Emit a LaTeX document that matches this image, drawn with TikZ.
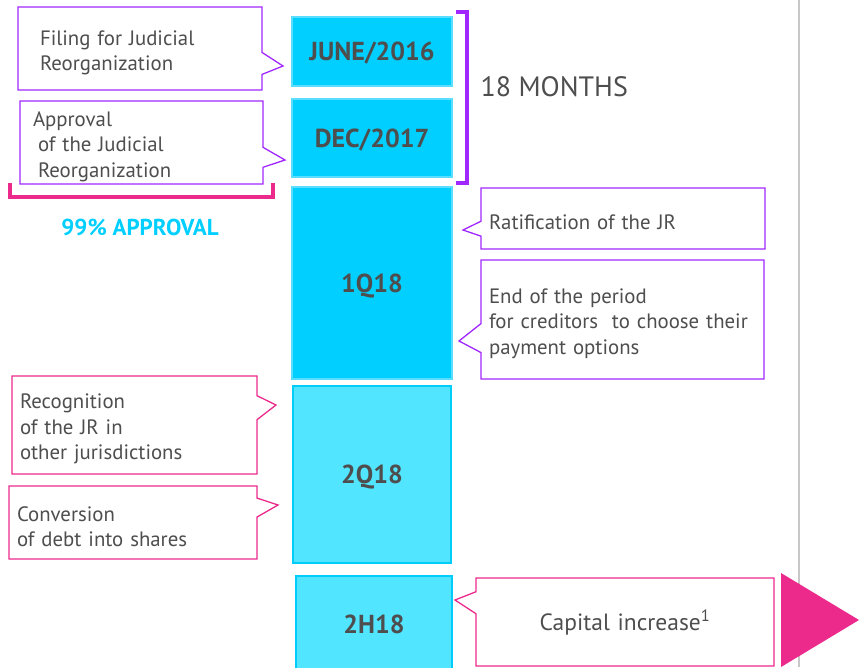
\documentclass[tikz,border=0pt]{standalone}
\usepackage{xcolor}
\usepackage{tikz}
\usepackage{fontspec}
\setmainfont{PT Sans}
\definecolor{boxcyan}{RGB}{0, 207, 255}
\definecolor{boxcyanedge}{RGB}{90, 222, 255}
\definecolor{lightcyan}{RGB}{82, 229, 255}
\definecolor{lightcyanedge}{RGB}{0, 204, 250}
\definecolor{calloutpurple}{RGB}{160, 40, 255}
\definecolor{calloutpink}{RGB}{236, 42, 140}
\definecolor{textgray}{RGB}{78, 78, 78}
\definecolor{rulegray}{RGB}{200, 200, 200}
\usetikzlibrary{shapes, shapes.callouts, positioning, calc}

\begin{document}
\begin{tikzpicture}[
    x=1pt, y=-1pt,
    datebox/.style={rectangle, draw=boxcyanedge, fill=boxcyan, line width=1.5pt, minimum width=160pt, text depth=0pt, text=textgray, font=\fontsize{26}{30}\selectfont\bfseries},
    laterbox/.style={datebox, draw=lightcyanedge, fill=lightcyan},
    callbox/.style={rectangle callout, draw, fill=white, line width=1.3pt, inner xsep=8pt, inner ysep=0pt, align=left, text height=23pt, text=textgray, font=\fontsize{20.8}{25.5}\selectfont},
    bracket/.style={line width=4pt}
]
    \useasboundingbox (0,0) rectangle (859,667);

    \draw[rulegray, line width=2pt] (799,0) -- (799,667);

    \node[datebox, minimum height=69pt] (june) at (372,51.5) {JUNE/2016};
    \node[datebox, minimum height=78pt] (dec) at (372,138) {DEC/2017};
    \node[datebox, minimum height=192pt] (q1) at (372,283) {1Q18};
    \node[laterbox, minimum width=158pt, minimum height=177pt] (q2) at (372,474.5) {2Q18};
    \node[laterbox, minimum width=156pt, minimum height=96pt] (h2) at (374,624) {2H18};

    \node[callbox, draw=calloutpurple, text width=228pt, minimum height=83pt,
        callout absolute pointer={(283,66)}, callout pointer width=22pt] (filing) at (140,48.5) {
        \hspace*{14pt}Filing for Judicial\\
        \hspace*{14pt}Reorganization
    };

    \node[callbox, draw=calloutpurple, text width=227pt, minimum height=83pt,
        callout absolute pointer={(285,160)}, callout pointer width=20pt] (approval) at (141.5,142.5) {
        \hspace*{5pt}Approval\\
        \hspace*{10pt}of the Judicial\\
        \hspace*{10pt}Reorganization
    };

    \node[callbox, draw=calloutpurple, text width=268pt, minimum height=61pt,
        callout absolute pointer={(463,230)}, callout pointer width=15pt] (ratif) at (623,218.5) {
        Ratification of the JR
    };

    \node[callbox, draw=calloutpurple, text width=267pt, minimum height=119pt,
        callout absolute pointer={(459,341)}, callout pointer width=29pt] (period) at (622.5,319.5) {
        End of the period\\
        for creditors\ \ to choose their\\
        payment options
    };

    \node[callbox, draw=calloutpink, text width=229pt, minimum height=98pt,
        callout absolute pointer={(276,405)}, callout pointer width=24pt] (recog) at (134.5,425) {
        Recognition\\
        of the JR in\\
        other jurisdictions
    };

    \node[callbox, draw=calloutpink, text width=232pt, minimum height=73pt,
        callout absolute pointer={(278,505)}, callout pointer width=19pt] (conv) at (133,522.5) {
        Conversion\\
        of debt into shares
    };

    \node[callbox, draw=calloutpink, text width=282pt, minimum height=88pt, align=center,
        callout absolute pointer={(455,600)}, callout pointer width=22pt, text height=22pt,
        font=\fontsize{23.5}{26}\selectfont] (capital) at (625,622) {
        Capital increase\textsuperscript{1}
    };

    \fill[calloutpink] (781,573) -- (859,620) -- (781,667) -- cycle;

    \draw[bracket, calloutpurple] (456,12) -- (467,12) -- (467,183) -- (456,183);
    \draw[bracket, calloutpink] (10,183) -- (10,197) -- (273,197) -- (273,183);

    \node[text=textgray, font=\fontsize{28}{30}\selectfont, anchor=west] (months) at (477,87) {18 MONTHS};
    \node[text=boxcyan, font=\fontsize{23}{26}\selectfont\bfseries] (approved) at (140,227) {99\% APPROVAL};
\end{tikzpicture}
\end{document}
